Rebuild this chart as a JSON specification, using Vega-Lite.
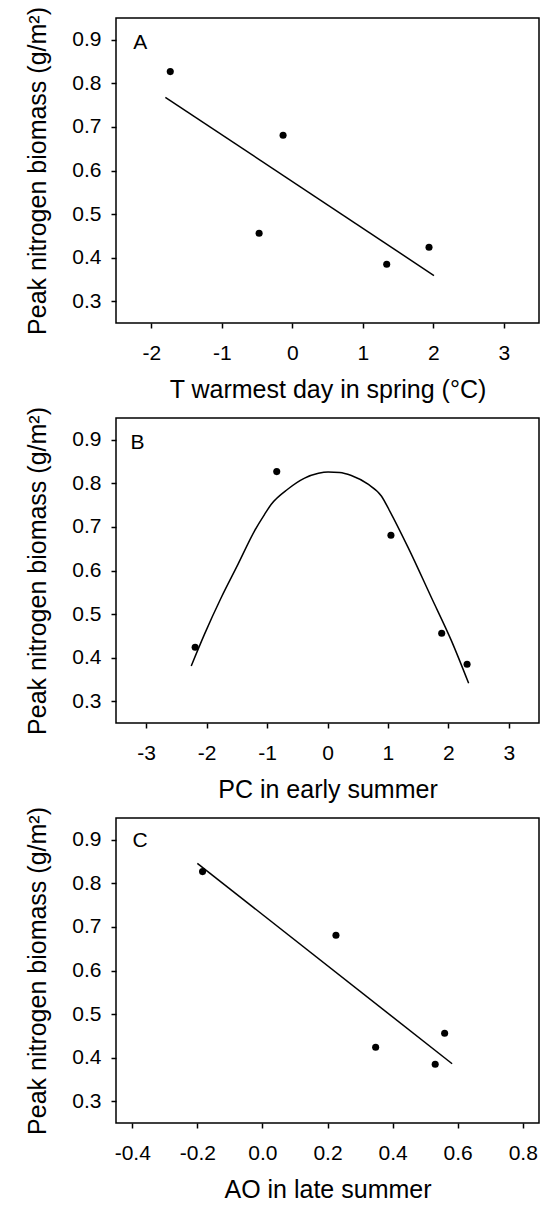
{
  "$schema": "https://vega.github.io/schema/vega-lite/v6.json",
  "padding": {"left": 25, "top": 5, "right": 0, "bottom": 0},
  "spacing": 95,
  "bounds": "flush",
  "config": {
    "locale": {"number": {"decimal": ".", "thousands": ",", "grouping": [3], "currency": ["", ""], "minus": "-"}},
    "font": "Liberation Sans",
    "view": {"stroke": "black", "strokeWidth": 1.5},
    "axis": {
      "domain": false,
      "grid": false,
      "ticks": true,
      "tickSize": 5,
      "tickWidth": 1.5,
      "tickColor": "black",
      "labelFont": "Liberation Sans",
      "labelFontSize": 21,
      "labelColor": "black",
      "titleFont": "Liberation Sans",
      "titleFontSize": 25,
      "titleFontWeight": "normal",
      "titleColor": "black"
    },
    "axisX": {"labelPadding": 14, "titlePadding": 14},
    "axisY": {"labelPadding": 10, "titlePadding": 21}
  },
  "vconcat": [
    {
      "width": 423,
      "height": 305,
      "encoding": {
        "x": {"field": "x", "type": "quantitative", "scale": {"domain": [-2.5, 3.5], "nice": false, "zero": false}, "axis": {"values": [-2, -1, 0, 1, 2, 3], "format": "d", "title": "T warmest day in spring (°C)"}},
        "y": {"field": "y", "type": "quantitative", "scale": {"domain": [0.25, 0.95], "nice": false, "zero": false}, "axis": {"values": [0.3, 0.4, 0.5, 0.6, 0.7, 0.8, 0.9], "format": ".1f", "title": "Peak nitrogen biomass (g/m²)"}}
      },
      "layer": [
        {
          "data": {"values": [
            {"x": -1.8, "y": 0.768},
            {"x": 2.01, "y": 0.359}
          ]},
          "mark": {"type": "line", "color": "black", "strokeWidth": 1.5}
        },
        {
          "data": {"values": [
            {"x": -1.73, "y": 0.827},
            {"x": -0.13, "y": 0.681},
            {"x": -0.47, "y": 0.456},
            {"x": 1.34, "y": 0.385},
            {"x": 1.94, "y": 0.424}
          ]},
          "mark": {"type": "circle", "color": "black", "size": 50, "opacity": 1}
        },
        {
          "data": {"values": [{"x": -2.255, "y": 0.892, "label": "A"}]},
          "mark": {"type": "text", "align": "left", "baseline": "middle", "fontSize": 21, "color": "black", "font": "Liberation Sans"},
          "encoding": {"text": {"field": "label"}}
        }
      ]
    },
    {
      "width": 423,
      "height": 305,
      "encoding": {
        "x": {"field": "x", "type": "quantitative", "scale": {"domain": [-3.5, 3.5], "nice": false, "zero": false}, "axis": {"values": [-3, -2, -1, 0, 1, 2, 3], "format": "d", "title": "PC in early summer"}},
        "y": {"field": "y", "type": "quantitative", "scale": {"domain": [0.25, 0.95], "nice": false, "zero": false}, "axis": {"values": [0.3, 0.4, 0.5, 0.6, 0.7, 0.8, 0.9], "format": ".1f", "title": "Peak nitrogen biomass (g/m²)"}}
      },
      "layer": [
        {
          "data": {"values": [
            {"x": -2.255, "y": 0.381},
            {"x": -2.035, "y": 0.454},
            {"x": -1.758, "y": 0.538},
            {"x": -1.482, "y": 0.614},
            {"x": -1.207, "y": 0.691},
            {"x": -1.041, "y": 0.729},
            {"x": -0.93, "y": 0.752},
            {"x": -0.654, "y": 0.787},
            {"x": -0.379, "y": 0.812},
            {"x": -0.15, "y": 0.823},
            {"x": 0.01, "y": 0.826},
            {"x": 0.2, "y": 0.825},
            {"x": 0.394, "y": 0.818},
            {"x": 0.671, "y": 0.798},
            {"x": 0.891, "y": 0.771},
            {"x": 1.028, "y": 0.737},
            {"x": 1.333, "y": 0.653},
            {"x": 1.719, "y": 0.538},
            {"x": 2.05, "y": 0.439},
            {"x": 2.336, "y": 0.341}
          ]},
          "mark": {"type": "line", "color": "black", "strokeWidth": 1.5, "interpolate": "monotone"}
        },
        {
          "data": {"values": [
            {"x": -2.19, "y": 0.424},
            {"x": -0.84, "y": 0.827},
            {"x": 1.05, "y": 0.681},
            {"x": 1.89, "y": 0.456},
            {"x": 2.31, "y": 0.385}
          ]},
          "mark": {"type": "circle", "color": "black", "size": 50, "opacity": 1}
        },
        {
          "data": {"values": [{"x": -3.26, "y": 0.893, "label": "B"}]},
          "mark": {"type": "text", "align": "left", "baseline": "middle", "fontSize": 21, "color": "black", "font": "Liberation Sans"},
          "encoding": {"text": {"field": "label"}}
        }
      ]
    },
    {
      "width": 423,
      "height": 305,
      "encoding": {
        "x": {"field": "x", "type": "quantitative", "scale": {"domain": [-0.45, 0.85], "nice": false, "zero": false}, "axis": {"values": [-0.4, -0.2, 0.0, 0.2, 0.4, 0.6, 0.8], "format": ".1f", "title": "AO in late summer"}},
        "y": {"field": "y", "type": "quantitative", "scale": {"domain": [0.25, 0.95], "nice": false, "zero": false}, "axis": {"values": [0.3, 0.4, 0.5, 0.6, 0.7, 0.8, 0.9], "format": ".1f", "title": "Peak nitrogen biomass (g/m²)"}}
      },
      "layer": [
        {
          "data": {"values": [
            {"x": -0.2, "y": 0.846},
            {"x": 0.583, "y": 0.386}
          ]},
          "mark": {"type": "line", "color": "black", "strokeWidth": 1.5}
        },
        {
          "data": {"values": [
            {"x": -0.184, "y": 0.827},
            {"x": 0.226, "y": 0.681},
            {"x": 0.348, "y": 0.424},
            {"x": 0.531, "y": 0.385},
            {"x": 0.56, "y": 0.456}
          ]},
          "mark": {"type": "circle", "color": "black", "size": 50, "opacity": 1}
        },
        {
          "data": {"values": [{"x": -0.399, "y": 0.897, "label": "C"}]},
          "mark": {"type": "text", "align": "left", "baseline": "middle", "fontSize": 21, "color": "black", "font": "Liberation Sans"},
          "encoding": {"text": {"field": "label"}}
        }
      ]
    }
  ]
}
